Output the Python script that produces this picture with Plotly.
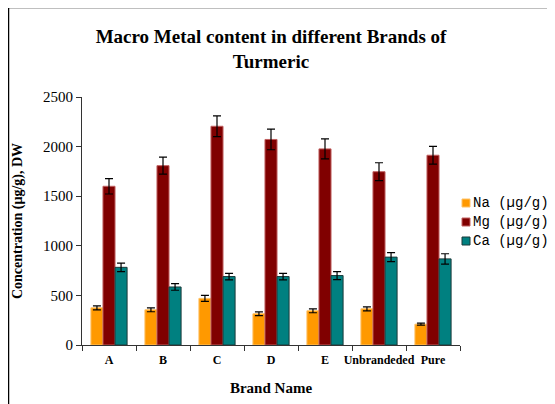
import plotly.graph_objects as go

brands = ["A", "B", "C", "D", "E", "Unbrandeded", "Pure"]
na = [375, 355, 470, 315, 345, 365, 210]
na_err = [20, 20, 30, 18, 20, 20, 10]
mg = [1600, 1808, 2205, 2072, 1977, 1747, 1913]
mg_err = [78, 85, 104, 104, 100, 90, 90]
ca = [783, 585, 690, 690, 700, 886, 868]
ca_err = [43, 33, 33, 33, 40, 45, 52]
names = ["Na (\u00b5g/g)", "Mg (\u00b5g/g)", "Ca (\u00b5g/g)"]

# page has an 8px body margin: figure is offset by 8px
OFF = 8
W, H = 555 - OFF, 404 - OFF
PL, PR, PT, PB = 82, 460, 97, 345          # plot area in page pixels
L, T = PL - OFF, PT - OFF
R, B = W - (PR - OFF), H - (PB - OFF)
pw, ph = PR - PL, PB - PT

serif = "Liberation Serif, Times New Roman, serif"
mono = "Liberation Mono, DejaVu Sans Mono, monospace"

def px_x(p):
    return (p - PL) / pw

def px_y(p):
    return (PB - p) / ph

fig = go.Figure()
styles = [("#FF9900", "#FFC266"), ("#800000", "#C06060"), ("#008080", "#1a3a3a")]
for name, vals, errs, (col, line) in zip(names, [na, mg, ca], [na_err, mg_err, ca_err], styles):
    fig.add_trace(go.Bar(
        x=brands, y=vals, name=name, showlegend=False,
        marker=dict(color=col, line=dict(color=line, width=1)),
        error_y=dict(type="data", array=errs, color="black", thickness=1.2, width=4),
    ))

shapes = [
    dict(type="line", xref="paper", yref="paper", x0=px_x(8.5), x1=px_x(8.5),
         y0=px_y(410), y1=px_y(7.5), line=dict(color="black", width=1.5)),
    dict(type="line", xref="paper", yref="paper", x0=px_x(8.5), x1=px_x(560),
         y0=px_y(7.5), y1=px_y(7.5), line=dict(color="black", width=1.5)),
]
annotations = []
legend_rows = [203, 222, 241]
for (col, line), name, yc in zip(styles, names, legend_rows):
    shapes.append(dict(type="rect", xref="paper", yref="paper",
                       x0=px_x(462), x1=px_x(470), y0=px_y(yc + 4), y1=px_y(yc - 4),
                       fillcolor=col, line=dict(color=line, width=1)))
    annotations.append(dict(xref="paper", yref="paper", x=px_x(471), y=px_y(yc),
                            xanchor="left", yanchor="middle", showarrow=False,
                            text=name, font=dict(family=mono, size=14, color="black")))

fig.update_layout(
    width=W, height=H,
    margin=dict(l=L, r=R, t=T, b=B, autoexpand=False),
    paper_bgcolor="white", plot_bgcolor="white",
    barmode="group", bargap=0.33, bargroupgap=0,
    showlegend=False,
    title=dict(text="<b>Macro Metal content in different Brands of<br>Turmeric</b>",
               xref="paper", x=0.5, xanchor="center",
               y=1 - (43 - OFF) / H, yanchor="middle",
               font=dict(family=serif, size=19, color="black")),
    xaxis=dict(showline=True, linecolor="#333333", linewidth=1, automargin=False,
               tickangle=0, ticklabelstandoff=4,
               ticks="outside", tickson="boundaries", ticklen=5, tickcolor="#333333",
               tickfont=dict(family=serif, size=12, color="black", weight="bold"),
               title=dict(text="<b>Brand Name</b>", standoff=16,
                          font=dict(family=serif, size=15, color="black"))),
    yaxis=dict(range=[0, 2500], dtick=500, showline=True, linecolor="#333333", linewidth=1,
               automargin=False,
               ticks="outside", ticklen=5, tickcolor="#333333", showgrid=False, zeroline=False,
               tickfont=dict(family=serif, size=15, color="black"),
               title=dict(text="<b>Concentration (\u00b5g/g), DW</b>", standoff=17,
                          font=dict(family=serif, size=14, color="black"))),
    shapes=shapes,
    annotations=annotations,
)

fig.write_html("out.html")
